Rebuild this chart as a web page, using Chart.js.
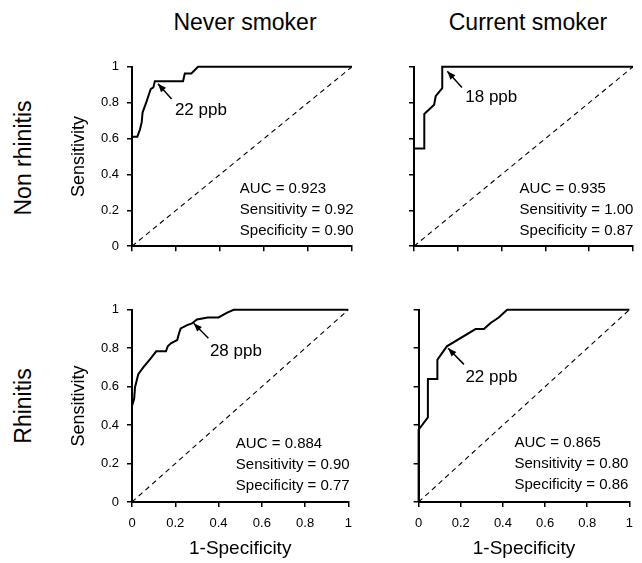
<!DOCTYPE html>
<html>
<head>
<meta charset="utf-8">
<script src="https://cdn.jsdelivr.net/npm/chart.js@4.4.1/dist/chart.umd.min.js"></script>
<style>
  html, body { margin: 0; padding: 0; background: #fff; }
  body { width: 642px; height: 563px; position: relative; overflow: hidden; font-family: 'Liberation Sans', Arial, sans-serif; color: #000; }
  canvas { position: absolute; }
  .label { position: absolute; white-space: nowrap; font-size: 23px; line-height: 1; }
  .col { transform: translate(-50%, -50%); }
  .row { transform: translate(-50%, -50%) rotate(-90deg); }
</style>
</head>
<body>
<div class="label col" style="left:245px; top:22px">Never smoker</div>
<div class="label col" style="left:528px; top:22px">Current smoker</div>
<div class="label row" style="left:23px; top:158px">Non rhinitis</div>
<div class="label row" style="left:23px; top:406px">Rhinitis</div>

<canvas id="neverNon"></canvas>
<canvas id="currentNon"></canvas>
<canvas id="neverRhin"></canvas>
<canvas id="currentRhin"></canvas>

<script>
// ROC curves: 1-specificity (x) and sensitivity (y)
const neverNonFpr  = [0, 0, 0.024, 0.036, 0.044, 0.048, 0.066, 0.085, 0.097, 0.104, 0.232, 0.24, 0.27, 0.30, 1];
const neverNonSens = [0, 0.61, 0.61, 0.65, 0.69, 0.745, 0.806, 0.876, 0.885, 0.92, 0.92, 0.963, 0.963, 1, 1];

const currentNonFpr  = [0, 0, 0.047, 0.047, 0.092, 0.099, 0.129, 0.129, 1];
const currentNonSens = [0, 0.545, 0.545, 0.737, 0.789, 0.836, 0.881, 1, 1];

const neverRhinFpr  = [0, 0, 0.01, 0.014, 0.029, 0.052, 0.081, 0.112, 0.157, 0.165, 0.18, 0.195, 0.209, 0.217, 0.225, 0.255, 0.277, 0.30, 0.35, 0.40, 0.44, 0.47, 1];
const neverRhinSens = [0, 0.50, 0.537, 0.597, 0.665, 0.70, 0.74, 0.784, 0.784, 0.81, 0.826, 0.835, 0.843, 0.877, 0.903, 0.92, 0.929, 0.95, 0.96, 0.96, 0.985, 1, 1];

const currentRhinFpr  = [0, 0, 0.044, 0.044, 0.089, 0.089, 0.134, 0.27, 0.31, 0.34, 0.38, 0.42, 1];
const currentRhinSens = [0, 0.376, 0.44, 0.64, 0.64, 0.74, 0.81, 0.90, 0.90, 0.93, 0.96, 1, 1];

const chanceLine = [0, 1];
const tickStep = 0.2;

// cutoff labels and summary statistics
const cutoffs = ['22 ppb', '18 ppb', '28 ppb', '22 ppb'];
const aucs = ['0.923', '0.935', '0.884', '0.865'];
const sensitivities = ['0.92', '1.00', '0.90', '0.80'];
const specificities = ['0.90', '0.87', '0.77', '0.86'];

const FONT = "'Liberation Sans', Arial, sans-serif";

const toPoints = (xs, ys) => xs.map((x, i) => ({ x, y: ys[i] }));
const tickText = v => String(Math.round(v * 10) / 10);

const notesPlugin = {
  id: 'rocNotes',
  afterDatasetsDraw(chart, args, o) {
    const { ctx, scales: { x, y } } = chart;
    const tx = x.getPixelForValue(o.tip[0]), ty = y.getPixelForValue(o.tip[1]);
    const sx = x.getPixelForValue(o.tail[0]), sy = y.getPixelForValue(o.tail[1]);
    ctx.save();
    ctx.strokeStyle = '#000';
    ctx.fillStyle = '#000';
    ctx.lineWidth = 1.5;
    ctx.beginPath(); ctx.moveTo(sx, sy); ctx.lineTo(tx, ty); ctx.stroke();
    const ang = Math.atan2(ty - sy, tx - sx), len = 9, half = 0.38;
    ctx.beginPath();
    ctx.moveTo(tx, ty);
    ctx.lineTo(tx - len * Math.cos(ang - half), ty - len * Math.sin(ang - half));
    ctx.lineTo(tx - len * Math.cos(ang + half), ty - len * Math.sin(ang + half));
    ctx.closePath(); ctx.fill();

    ctx.textBaseline = 'middle';
    ctx.textAlign = 'left';
    ctx.font = '17px ' + FONT;
    ctx.fillText(o.cutoff, x.getPixelForValue(o.cutoffAt[0]), y.getPixelForValue(o.cutoffAt[1]));
    ctx.font = '15px ' + FONT;
    const lx = x.getPixelForValue(o.statsAt[0]), ly = y.getPixelForValue(o.statsAt[1]);
    o.stats.forEach((s, i) => ctx.fillText(s, lx, ly + i * 21));
    ctx.restore();
  }
};

function makePanel(id, box, fpr, sens, note, showYLabels, showXLabels) {
  const yw = showYLabels ? 72 : 8;
  const xh = showXLabels ? 61 : 8;
  const padTop = 12, padRight = box.padRight;
  const cv = document.getElementById(id);
  cv.width = (box.r - box.l) + yw + padRight;
  cv.height = (box.b - box.t) + xh + padTop;
  cv.style.left = (box.l - yw) + 'px';
  cv.style.top = (box.t - padTop) + 'px';

  const grid = { drawOnChartArea: false, drawTicks: true, tickLength: 5, color: '#000', lineWidth: 1.5 };
  const border = { display: true, color: '#000', width: 2 };

  new Chart(cv, {
    type: 'scatter',
    data: {
      datasets: [
        { data: toPoints(fpr, sens), showLine: true, borderColor: '#000', borderWidth: 2, pointRadius: 0, tension: 0, clip: 6 },
        { data: toPoints(chanceLine, chanceLine), showLine: true, borderColor: '#000', borderWidth: 1.1, borderDash: [5, 4], pointRadius: 0 }
      ]
    },
    options: {
      responsive: false,
      animation: false,
      events: [],
      layout: { padding: { top: padTop, right: padRight, left: 0, bottom: 0 } },
      plugins: { legend: { display: false }, tooltip: { enabled: false }, rocNotes: note },
      scales: {
        x: {
          type: 'linear', min: 0, max: 1,
          grid, border,
          ticks: {
            stepSize: tickStep, autoSkip: false, padding: 9, color: '#000',
            font: { family: FONT, size: 13 },
            callback: v => showXLabels ? tickText(v) : ''
          },
          title: { display: showXLabels, text: '1-Specificity', color: '#000', font: { family: FONT, size: 19 }, padding: { top: 0, bottom: 3 } },
          afterFit: s => { s.height = xh; }
        },
        y: {
          type: 'linear', min: 0, max: 1,
          grid, border,
          ticks: {
            stepSize: tickStep, autoSkip: false, padding: 8, color: '#000',
            font: { family: FONT, size: 13 },
            callback: v => showYLabels ? tickText(v) : ''
          },
          title: { display: showYLabels, text: 'Sensitivity', color: '#000', font: { family: FONT, size: 18 }, padding: { top: 8, bottom: 0 } },
          afterFit: s => { s.width = yw; }
        }
      }
    },
    plugins: [notesPlugin]
  });
}

function note(i, tip, tail, cutoffAt, statsAt) {
  return {
    tip, tail, cutoffAt, statsAt,
    cutoff: cutoffs[i],
    stats: ['AUC = ' + aucs[i], 'Sensitivity = ' + sensitivities[i], 'Specificity = ' + specificities[i]]
  };
}

makePanel('neverNon', { l: 132, r: 353, t: 63, b: 254, padRight: 8 }, neverNonFpr, neverNonSens,
  note(0, [0.118, 0.905], [0.18, 0.82], [0.195, 0.76], [0.49, 0.32]), true, false);
makePanel('currentNon', { l: 413, r: 635, t: 63, b: 254, padRight: 7 }, currentNonFpr, currentNonSens,
  note(1, [0.152, 0.975], [0.219, 0.885], [0.234, 0.83], [0.482, 0.32]), false, false);
makePanel('neverRhin', { l: 132, r: 353, t: 306, b: 502, padRight: 8 }, neverRhinFpr, neverRhinSens,
  note(2, [0.285, 0.93], [0.353, 0.852], [0.36, 0.784], [0.48, 0.30]), true, true);
makePanel('currentRhin', { l: 414, r: 636, t: 306, b: 502, padRight: 6 }, currentRhinFpr, currentRhinSens,
  note(3, [0.14, 0.80], [0.215, 0.716], [0.222, 0.648], [0.455, 0.308]), false, true);
</script>
</body>
</html>
